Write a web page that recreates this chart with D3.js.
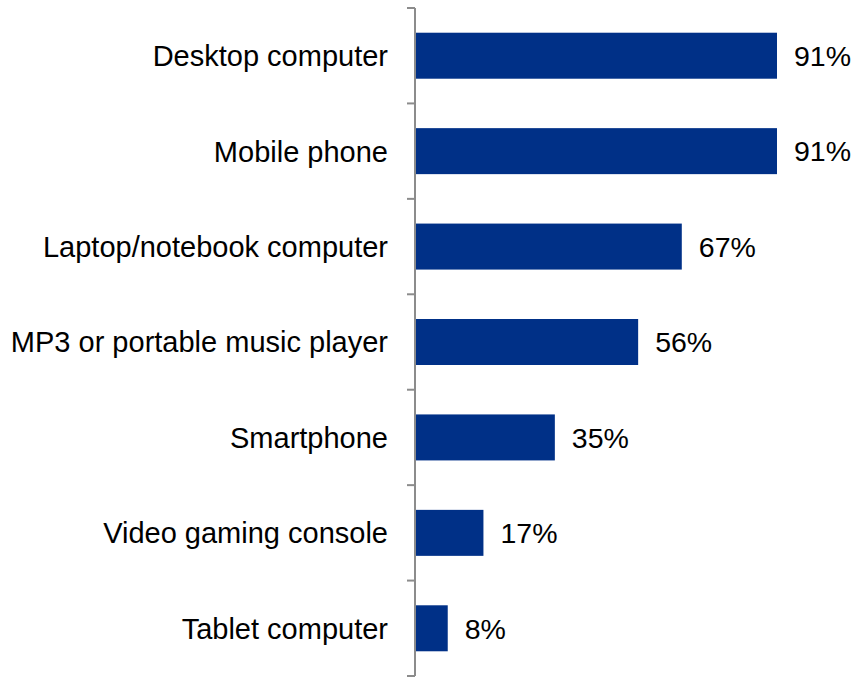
<!DOCTYPE html>
<html>
<head>
<meta charset="utf-8">
<script src="https://cdn.jsdelivr.net/npm/d3@7"></script>
<style>
  html, body { margin: 0; padding: 0; background: #fff; }
  svg { display: block; }
  text { font-family: "Liberation Sans", Arial, sans-serif; fill: #000; }
</style>
</head>
<body>
<svg id="chart" width="856" height="677"></svg>
<script>
// Device ownership by type (percent of respondents)
const categories = [
  "Desktop computer",
  "Mobile phone",
  "Laptop/notebook computer",
  "MP3 or portable music player",
  "Smartphone",
  "Video gaming console",
  "Tablet computer"
];
const values = [91, 91, 67, 56, 35, 17, 8];
const valueLabels = ["91%", "91%", "67%", "56%", "35%", "17%", "8%"];

const svg = d3.select("#chart");
const axisX = 415;
const plotTop = 8, plotBottom = 676;

const y = d3.scaleBand()
  .domain(categories)
  .range([plotTop, plotBottom])
  .paddingInner(0.518)
  .paddingOuter(0.259);

const x = d3.scaleLinear()
  .domain([0, 100])
  .range([axisX + 1, axisX + 1 + 396.7]);

const step = y.step();
const catFont = 29;
const valFont = 28.5;

// bars
svg.append("g")
  .selectAll("rect")
  .data(values)
  .join("rect")
  .attr("x", x(0))
  .attr("y", (d, i) => y(categories[i]))
  .attr("width", d => x(d) - x(0))
  .attr("height", y.bandwidth())
  .attr("fill", "#003087");

// value labels
svg.append("g")
  .selectAll("text")
  .data(values)
  .join("text")
  .attr("x", d => x(d) + 17)
  .attr("y", (d, i) => y(categories[i]) + y.bandwidth() / 2 + valFont * 0.36)
  .style("font-size", valFont + "px")
  .text((d, i) => valueLabels[i]);

// category axis with ticks at band boundaries
const axis = svg.append("g");
axis.append("line")
  .attr("x1", axisX).attr("x2", axisX)
  .attr("y1", plotTop).attr("y2", plotBottom)
  .attr("stroke", "#8c8c8c").attr("stroke-width", 2);

const boundaries = d3.range(categories.length + 1).map(i => plotTop + i * step);
axis.selectAll("line.tick")
  .data(boundaries)
  .join("line")
  .attr("class", "tick")
  .attr("x1", axisX - 8).attr("x2", axisX)
  .attr("y1", d => d).attr("y2", d => d)
  .attr("stroke", "#8c8c8c").attr("stroke-width", 2);

axis.selectAll("text")
  .data(categories)
  .join("text")
  .attr("x", axisX - 27)
  .attr("y", d => y(d) + y.bandwidth() / 2 + catFont * 0.36)
  .attr("text-anchor", "end")
  .style("font-size", catFont + "px")
  .text(d => d);
</script>
</body>
</html>
